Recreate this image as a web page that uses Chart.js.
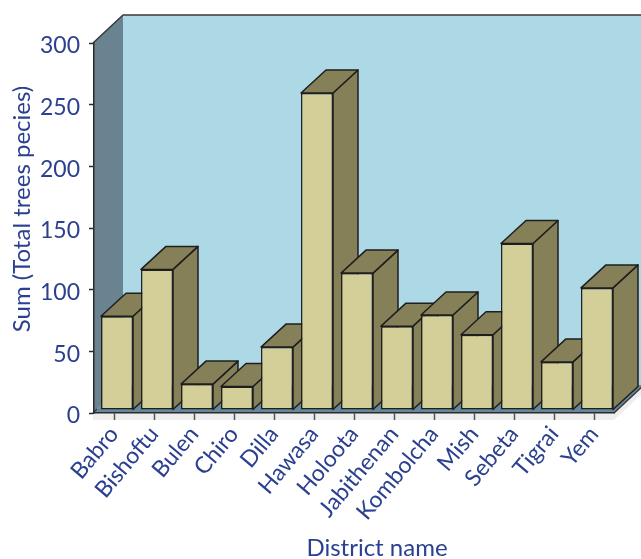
<!DOCTYPE html>
<html>
<head>
<meta charset="utf-8">
<title>Total tree species by district</title>
<style>
  html, body { margin: 0; padding: 0; background: #ffffff; }
  #wrap { position: relative; width: 641px; height: 559px; }
</style>
<script src="https://cdn.jsdelivr.net/npm/chart.js@4.4.0/dist/chart.umd.min.js"></script>
</head>
<body>
<div id="wrap"><canvas id="chart"></canvas></div>
<script>
// District names along the category axis
const districts = ['Babro', 'Bishoftu', 'Bulen', 'Chiro', 'Dilla', 'Hawasa', 'Holoota',
                   'Jabithenan', 'Kombolcha', 'Mish', 'Sebeta', 'Tigrai', 'Yem'];
// Sum of total tree species per district
const treeSpecies = [76, 114, 21, 19, 51, 257, 111, 68, 77, 61, 135, 39, 99];
// Value axis ticks
const yTicks = [0, 50, 100, 150, 200, 250, 300];

const yTitle = 'Sum (Total trees pecies)';
const xTitle = 'District name';

const TEXT = '#2b4090';
const FONT = 'Lato, "Open Sans", sans-serif';

// Oblique projection used for the walls and the bars
const WALL = { dx: 30, dy: -28 };   // depth of the plot box
const FRONT = { dx: 3, dy: -3 };    // bar front face sits slightly behind the floor edge
const BAR = { dx: 25, dy: -23 };    // depth of each bar

function poly(ctx, pts, fill, stroke, lw) {
  ctx.beginPath();
  ctx.moveTo(pts[0][0], pts[0][1]);
  for (let i = 1; i < pts.length; i++) ctx.lineTo(pts[i][0], pts[i][1]);
  ctx.closePath();
  if (fill) { ctx.fillStyle = fill; ctx.fill(); }
  if (stroke) { ctx.strokeStyle = stroke; ctx.lineWidth = lw || 1; ctx.stroke(); }
}

// Walls, floor and floor slab, painted before the axes
const boxPlugin = {
  id: 'box3d',
  beforeDraw(chart) {
    const { ctx, chartArea: a } = chart;
    const L = a.left - 1, R = a.right, T = a.top, B = a.bottom;
    ctx.save();
    ctx.lineJoin = 'round';
    // back wall
    poly(ctx, [[L + WALL.dx, T + WALL.dy], [R + WALL.dx + 10, T + WALL.dy],
               [R + WALL.dx + 10, B + WALL.dy], [L + WALL.dx, B + WALL.dy]], '#add8e6');
    // left side wall
    poly(ctx, [[L, T], [L + WALL.dx, T + WALL.dy], [L + WALL.dx, B + WALL.dy], [L, B]], '#6a8390');
    // floor
    poly(ctx, [[L, B], [L + WALL.dx, B + WALL.dy], [R + WALL.dx, B + WALL.dy], [R, B]], '#67889a');
    // floor slab front and side
    poly(ctx, [[L, B], [R, B], [R, B + 7], [L, B + 7]], '#eeeeee');
    poly(ctx, [[R, B], [R + WALL.dx, B + WALL.dy], [R + WALL.dx, B + WALL.dy + 7], [R, B + 7]], '#eeeeee');
    // outlines of the box
    ctx.strokeStyle = '#3a3a3a';
    ctx.lineWidth = 1.5;
    ctx.beginPath();
    ctx.moveTo(L, T);
    ctx.lineTo(L + WALL.dx, T + WALL.dy);
    ctx.lineTo(R + WALL.dx + 10, T + WALL.dy);
    ctx.stroke();
    ctx.beginPath();
    ctx.moveTo(R, B);
    ctx.lineTo(R + WALL.dx, B + WALL.dy);
    ctx.stroke();
    ctx.beginPath();
    ctx.moveTo(L, B);
    ctx.lineTo(L + 4, B - 4);
    ctx.stroke();
    ctx.restore();
  },
  // right sides and tops of the bars
  beforeDatasetsDraw(chart) {
    const { ctx } = chart;
    const meta = chart.getDatasetMeta(0);
    ctx.save();
    ctx.lineJoin = 'round';
    meta.data.forEach((bar) => {
      const p = bar.getProps(['x', 'y', 'base', 'width'], true);
      const l = p.x - p.width / 2 + FRONT.dx, r = p.x + p.width / 2 + FRONT.dx;
      const t = p.y + FRONT.dy, b = p.base + FRONT.dy;
      poly(ctx, [[r, t], [r + BAR.dx, t + BAR.dy], [r + BAR.dx, b + BAR.dy], [r, b]], '#868059', '#1e1e1e', 1.5);
      poly(ctx, [[l, t], [l + BAR.dx, t + BAR.dy], [r + BAR.dx, t + BAR.dy], [r, t]], '#868059', '#1e1e1e', 1.5);
    });
    ctx.restore();
  },
  beforeDatasetDraw(chart) {
    chart.ctx.save();
    chart.ctx.translate(FRONT.dx, FRONT.dy);
  },
  afterDatasetDraw(chart) {
    chart.ctx.restore();
  },
  // axis titles
  afterDraw(chart) {
    const { ctx } = chart;
    ctx.save();
    ctx.fillStyle = TEXT;
    ctx.font = '24px ' + FONT;
    ctx.textAlign = 'center';
    ctx.textBaseline = 'middle';
    ctx.fillText(xTitle, 377, 548);
    ctx.translate(22, 209);
    ctx.rotate(-Math.PI / 2);
    ctx.fillText(yTitle, 0, 0);
    ctx.restore();
  }
};

new Chart(document.getElementById('chart'), {
  type: 'bar',
  data: {
    labels: districts,
    datasets: [{
      label: yTitle,
      data: treeSpecies,
      backgroundColor: '#d4cf98',
      borderColor: '#1e1e1e',
      borderWidth: 1.5,
      borderSkipped: false,
      barPercentage: 0.8,
      categoryPercentage: 1.0,
      clip: false
    }]
  },
  options: {
    responsive: true,
    maintainAspectRatio: false,
    animation: false,
    events: [],
    layout: { padding: { top: 43, right: 27, left: 0, bottom: 0 } },
    plugins: {
      legend: { display: false },
      tooltip: { enabled: false }
    },
    scales: {
      x: {
        offset: true,
        afterFit(scale) { scale.height = 146; },
        grid: {
          display: true,
          offset: false,
          drawOnChartArea: false,
          drawTicks: true,
          tickLength: 7,
          tickColor: '#555555',
          tickWidth: 1.5
        },
        border: { display: true, color: '#2a2a2a', width: 1.5 },
        ticks: {
          autoSkip: false,
          minRotation: 50,
          maxRotation: 50,
          padding: 1,
          color: TEXT,
          font: { family: FONT, size: 23 }
        }
      },
      y: {
        min: 0,
        max: 300,
        afterFit(scale) { scale.width = 94; },
        afterBuildTicks(scale) { scale.ticks = yTicks.map(v => ({ value: v })); },
        grid: {
          display: true,
          drawOnChartArea: false,
          drawTicks: true,
          tickLength: 5,
          tickColor: '#2a2a2a',
          tickWidth: 1.5
        },
        border: { display: true, color: '#2a2a2a', width: 1.5 },
        ticks: {
          padding: 9,
          labelOffset: 3,
          color: TEXT,
          font: { family: FONT, size: 23 }
        }
      }
    }
  },
  plugins: [boxPlugin]
});
</script>
</body>
</html>
